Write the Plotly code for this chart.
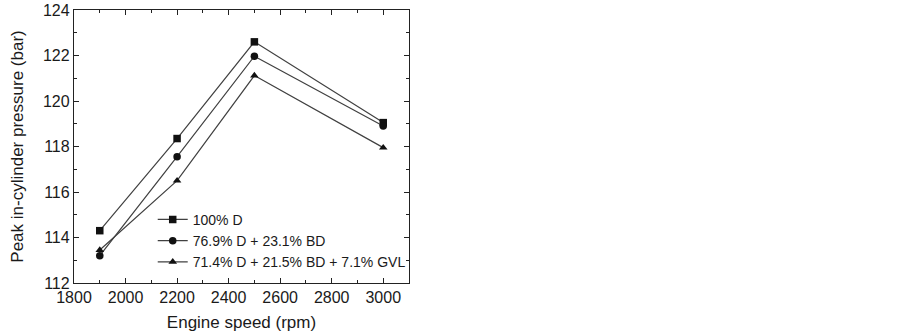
import plotly.graph_objects as go

speed = [1900, 2200, 2500, 3000]
d100 = [114.3, 118.35, 122.6, 119.05]
d_bd = [113.2, 117.55, 121.97, 118.9]
d_bd_gvl = [113.45, 116.5, 121.12, 117.95]
names = ["100% D", "76.9% D + 23.1% BD", "71.4% D + 21.5% BD + 7.1% GVL"]
symbols = ["square", "circle", "triangle-up"]

FONT = "Liberation Sans, Arial"
INK = "#1a1a1a"

fig = go.Figure()
for ys, nm, sym in zip([d100, d_bd, d_bd_gvl], names, symbols):
    fig.add_trace(go.Scatter(
        x=speed, y=ys, name=nm, mode="lines+markers",
        line=dict(color="#404040", width=1.2),
        marker=dict(symbol=sym, size=7.5, color="#111111"),
    ))

axis_common = dict(
    showline=True, linecolor="#222222", linewidth=1.3, mirror="ticks",
    ticks="inside", ticklen=5, tickcolor="#222222", showgrid=False, zeroline=False,
    tickfont=dict(family=FONT, size=16, color=INK), automargin=False,
)
fig.update_xaxes(
    range=[1800, 3100], dtick=200, tick0=1800,
    minor=dict(dtick=100, ticks="inside", ticklen=3, tickcolor="#222222"),
    title=dict(text="Engine speed (rpm)", font=dict(family=FONT, size=17, color=INK), standoff=10),
    **axis_common,
)
fig.update_yaxes(
    range=[112, 124], dtick=2,
    minor=dict(dtick=1, ticks="inside", ticklen=3, tickcolor="#222222"),
    title=dict(text="Peak in-cylinder pressure (bar)", font=dict(family=FONT, size=17, color=INK), standoff=14),
    **axis_common,
)
fig.update_layout(
    width=902, height=332,
    margin=dict(l=74, r=493, t=10, b=49),
    plot_bgcolor="white", paper_bgcolor="white",
    legend=dict(x=0.235, y=0.29, xanchor="left", yanchor="top",
                bgcolor="rgba(0,0,0,0)", tracegroupgap=0, itemwidth=30,
                font=dict(family=FONT, size=14, color=INK)),
)
# remove the browser's default 8px body margin so the figure starts at the window's corner
fig.write_html("out.html", config={"displayModeBar": False},
               post_script="document.body.style.margin='0';")
